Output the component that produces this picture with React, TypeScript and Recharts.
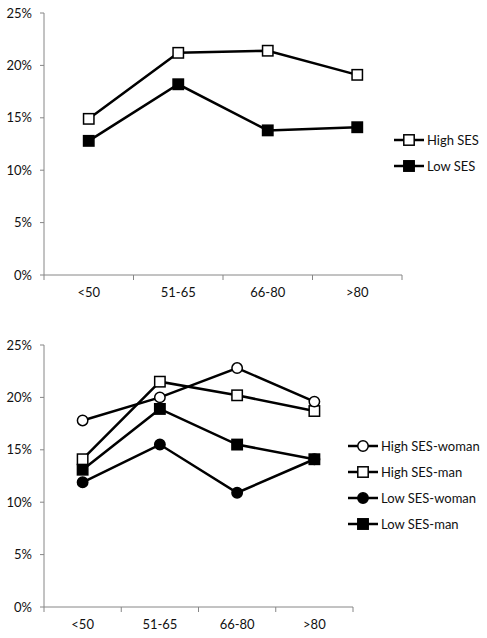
import { LineChart, Line, XAxis, YAxis } from 'recharts'

const categories = ['<50', '51-65', '66-80', '>80']
const yTicks = [0, 5, 10, 15, 20, 25]

// top panel
const highSes = [14.9, 21.2, 21.4, 19.1]
const lowSes = [12.8, 18.2, 13.8, 14.1]

// bottom panel
const highSesWoman = [17.8, 20.0, 22.8, 19.6]
const highSesMan = [14.1, 21.5, 20.2, 18.7]
const lowSesWoman = [11.9, 15.5, 10.9, 14.1]
const lowSesMan = [13.1, 18.9, 15.5, 14.1]

const FONT = 'Lato, "Open Sans", sans-serif'
const AXIS = '#868686'
const INK = '#000'
const LABEL_GAP = 13
const X_AXIS_H = 30

type Shape = 'square' | 'circle'

const topData = categories.map((c, i) => ({ cat: c, high: highSes[i], low: lowSes[i] }))
const bottomData = categories.map((c, i) => ({
  cat: c,
  hw: highSesWoman[i],
  hm: highSesMan[i],
  lw: lowSesWoman[i],
  lm: lowSesMan[i],
}))

function Marker({ cx, cy, shape, filled }: { cx: number; cy: number; shape: Shape; filled: boolean }) {
  const fill = filled ? INK : '#fff'
  if (shape === 'circle') {
    return <circle cx={cx} cy={cy} r={5.2} fill={fill} stroke={INK} strokeWidth={1.5} />
  }
  return <rect x={cx - 5.2} y={cy - 5.2} width={10.4} height={10.4} fill={fill} stroke={INK} strokeWidth={1.5} />
}

const dotFor = (shape: Shape, filled: boolean) => (p: any) => (
  <Marker key={`dot-${p.dataKey}-${p.index}`} cx={p.cx} cy={p.cy} shape={shape} filled={filled} />
)

// Excel style: tick marks between categories, labels centred in the band
const makeTick = (band: number) => (props: any) => {
  const { x, y, payload, index, visibleTicksCount } = props
  const axisY = y - LABEL_GAP
  const left = x - band / 2
  const right = x + band / 2
  return (
    <g>
      <line x1={left} x2={left} y1={axisY} y2={axisY + 5} stroke={AXIS} />
      {index === visibleTicksCount - 1 && <line x1={right} x2={right} y1={axisY} y2={axisY + 5} stroke={AXIS} />}
      <text x={x} y={y} dy="0.71em" textAnchor="middle" fontSize={13} fontFamily={FONT} fill="#111">
        {payload.value}
      </text>
    </g>
  )
}

interface LegendRow {
  label: string
  shape: Shape
  filled: boolean
}

function LegendBox({ rows, left, top }: { rows: LegendRow[]; left: number; top: number }) {
  return (
    <div style={{ position: 'absolute', left, top, fontFamily: FONT, fontSize: 13, color: '#111' }}>
      {rows.map(r => (
        <div key={r.label} style={{ display: 'flex', alignItems: 'center', height: 26 }}>
          <svg width={32} height={14}>
            <line x1={0} x2={30} y1={7} y2={7} stroke={INK} strokeWidth={2.5} />
            <Marker cx={15} cy={7} shape={r.shape} filled={r.filled} />
          </svg>
          <span style={{ marginLeft: 1, whiteSpace: 'nowrap' }}>{r.label}</span>
        </div>
      ))}
    </div>
  )
}

function yAxisProps() {
  return {
    domain: [0, 25] as [number, number],
    ticks: yTicks,
    tickFormatter: (v: number) => `${v}%`,
    width: 44,
    tickSize: 4,
    tickMargin: 8,
    axisLine: { stroke: AXIS },
    tickLine: { stroke: AXIS },
    tick: { fill: '#111', fontSize: 13, fontFamily: FONT },
    interval: 0 as const,
  }
}

export default function App() {
  const topBand = (487 - 85 - 44) / 4
  const bottomBand = (487 - 134 - 44) / 4
  return (
    <div style={{ position: 'absolute', left: 0, top: 0, width: 487, height: 638, background: '#fff' }}>
      <div style={{ position: 'absolute', left: 0, top: 0 }}>
        <LineChart width={487} height={320} data={topData} margin={{ top: 13, right: 85, bottom: 45 - X_AXIS_H, left: 0 }}>
          <XAxis
            dataKey="cat"
            scale="band"
            height={X_AXIS_H}
            axisLine={{ stroke: AXIS }}
            tickLine={false}
            tickSize={0}
            tickMargin={LABEL_GAP}
            interval={0}
            tick={makeTick(topBand)}
          />
          <YAxis {...yAxisProps()} />
          <Line dataKey="low" stroke={INK} strokeWidth={2.5} dot={dotFor('square', true)} isAnimationActive={false} />
          <Line dataKey="high" stroke={INK} strokeWidth={2.5} dot={dotFor('square', false)} isAnimationActive={false} />
        </LineChart>
      </div>
      <LegendBox
        left={394}
        top={127}
        rows={[
          { label: 'High SES', shape: 'square', filled: false },
          { label: 'Low SES', shape: 'square', filled: true },
        ]}
      />
      <div style={{ position: 'absolute', left: 0, top: 320 }}>
        <LineChart width={487} height={318} data={bottomData} margin={{ top: 25, right: 134, bottom: 31 - X_AXIS_H, left: 0 }}>
          <XAxis
            dataKey="cat"
            scale="band"
            height={X_AXIS_H}
            axisLine={{ stroke: AXIS }}
            tickLine={false}
            tickSize={0}
            tickMargin={LABEL_GAP}
            interval={0}
            tick={makeTick(bottomBand)}
          />
          <YAxis {...yAxisProps()} />
          <Line dataKey="lw" stroke={INK} strokeWidth={2.5} dot={dotFor('circle', true)} isAnimationActive={false} />
          <Line dataKey="lm" stroke={INK} strokeWidth={2.5} dot={dotFor('square', true)} isAnimationActive={false} />
          <Line dataKey="hm" stroke={INK} strokeWidth={2.5} dot={dotFor('square', false)} isAnimationActive={false} />
          <Line dataKey="hw" stroke={INK} strokeWidth={2.5} dot={dotFor('circle', false)} isAnimationActive={false} />
        </LineChart>
      </div>
      <LegendBox
        left={348}
        top={433}
        rows={[
          { label: 'High SES-woman', shape: 'circle', filled: false },
          { label: 'High SES-man', shape: 'square', filled: false },
          { label: 'Low SES-woman', shape: 'circle', filled: true },
          { label: 'Low SES-man', shape: 'square', filled: true },
        ]}
      />
    </div>
  )
}
